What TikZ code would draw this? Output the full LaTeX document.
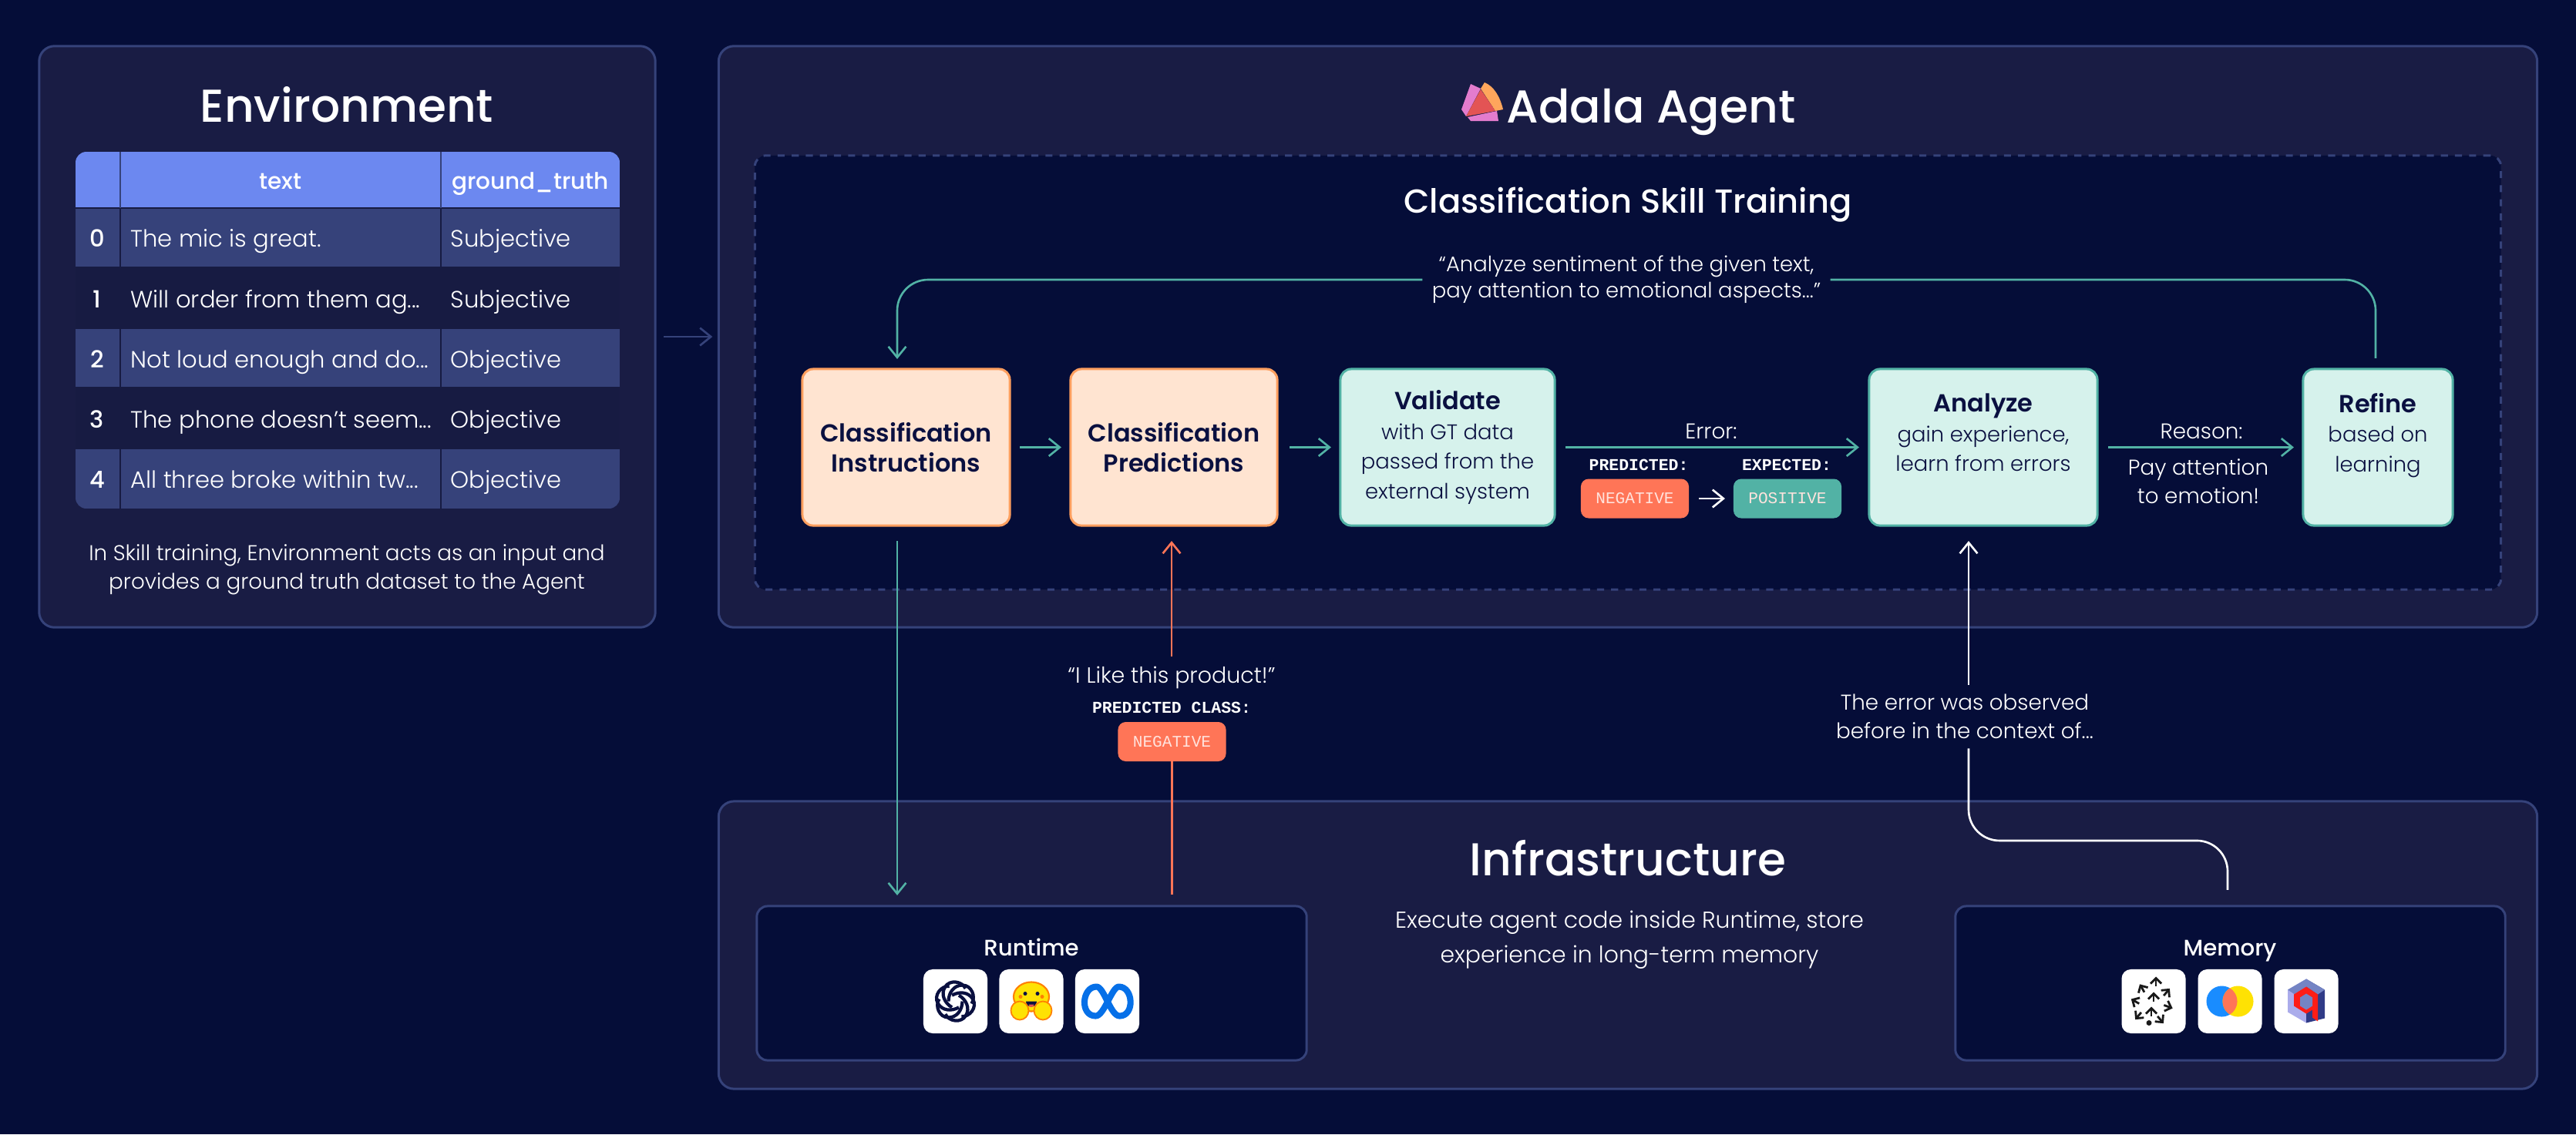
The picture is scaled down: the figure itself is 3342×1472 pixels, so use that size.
\documentclass[tikz,border=0pt]{standalone}
\usepackage{fontspec}
\setmainfont{Poppins}[UprightFont=* Light,BoldFont=* SemiBold]
\newfontfamily\medfont{Poppins}[UprightFont=* Medium]
\setmonofont{Liberation Mono}
\usetikzlibrary{arrows.meta}

\definecolor{pagebg}{HTML}{050D38}
\definecolor{panelbg}{HTML}{191C44}
\definecolor{panelline}{HTML}{35427A}
\definecolor{headblue}{HTML}{6C88F0}
\definecolor{rowlight}{HTML}{36427A}
\definecolor{rowdark}{HTML}{171B42}
\definecolor{peachfill}{HTML}{FFE4D1}
\definecolor{peachline}{HTML}{FF9F5F}
\definecolor{mintfill}{HTML}{D6F2EC}
\definecolor{mintline}{HTML}{52B2A5}
\definecolor{coral}{HTML}{FF7557}
\definecolor{inktext}{HTML}{0A1040}
\definecolor{logopink}{HTML}{E37CCD}
\definecolor{logored}{HTML}{E35454}
\definecolor{logoorange}{HTML}{FFA65C}
\definecolor{metablue}{HTML}{0670E8}

\newcommand{\boxhead}{\bfseries\fontsize{9.1}{11}\selectfont}

\tikzset{
	panel/.style={draw=panelline,fill=panelbg,line width=.85pt,rounded corners=.2cm,inner sep=0pt,outer sep=0pt},
	inpanel/.style={draw=panelline,fill=pagebg,line width=.85pt,rounded corners=.14cm,inner sep=0pt,outer sep=0pt},
	bigtitle/.style={text=white,font=\medfont\fontsize{17}{20}\selectfont},
	subtitle/.style={text=white,font=\medfont\fontsize{12.3}{16}\selectfont},
	bodytext/.style={text=white,align=center,font=\fontsize{7.9}{10.6}\selectfont},
	headcell/.style={text=white,text height=7pt,text depth=2pt,inner sep=0pt,font=\medfont\fontsize{8.4}{10}\selectfont},
	rowcell/.style={text=white,text height=7pt,text depth=2pt,inner sep=0pt,font=\fontsize{8.7}{10}\selectfont},
	flowbox/.style={rounded corners=.14cm,line width=.85pt,inner sep=0pt,outer sep=0pt,text=inktext,align=center,
		minimum height=2.03cm,font=\fontsize{7.8}{11}\selectfont},
	peachbox/.style={flowbox,draw=peachline,fill=peachfill,font=\boxhead},
	mintbox/.style={flowbox,draw=mintline,fill=mintfill,execute at begin node=\rule{0pt}{8.6pt}},
	tag/.style={rounded corners=.1cm,minimum width=1.4cm,minimum height=.51cm,inner sep=0pt,outer sep=0pt,
		text=white!80!coral,font=\fontsize{6}{7}\selectfont\ttfamily},
	monolabel/.style={text=white,inner sep=0pt,font=\fontsize{6.1}{7}\selectfont\ttfamily\bfseries},
	iconcard/.style={fill=white,rounded corners=.12cm,minimum width=.83cm,minimum height=.83cm,inner sep=0pt},
	flow/.style={-{Straight Barb[length=4pt,width=6.5pt]},line width=.75pt},
}

\begin{document}
\begin{tikzpicture}[x=.01cm,y=-.01cm]
	\fill[pagebg] (0,0) rectangle (3342,1472);
	\useasboundingbox (0,0) rectangle (3342,1472);

	% panels
	\node[panel,minimum width=7.99cm,minimum height=7.54cm] (env) at (450.5,437) {};
	\node[panel,minimum width=23.58cm,minimum height=7.54cm] (agent) at (2112,437) {};
	\node[panel,minimum width=23.58cm,minimum height=3.73cm] (infra) at (2112,1226.5) {};
	\node[inpanel,dash pattern=on 2.6pt off 2.6pt,minimum width=22.64cm,minimum height=5.63cm] (skill) at (2112,483.5) {};
	\node[inpanel,minimum width=7.13cm,minimum height=2cm] (runtime) at (1338.5,1276) {};
	\node[inpanel,minimum width=7.13cm,minimum height=2cm] (memory) at (2893.5,1276) {};

	\node[bigtitle] (envtitle) at (450,136) {Environment};
	\node[bigtitle] (agenttitle) at (2142,146) {Adala Agent};
	\node[subtitle] (skilltitle) at (2112,266) {Classification Skill Training};
	\node[bigtitle] (infratitle) at (2112,1114) {Infrastructure};
	\node[bodytext,font=\fontsize{8.5}{12.7}\selectfont] (infranote) at (2114,1220) {Execute agent code inside Runtime, store\\experience in long-term memory};
	\node[bodytext] (envnote) at (450,739) {In Skill training, Environment acts as an input and\\provides a ground truth dataset to the Agent};

	% logo
	\fill[logopink] (1908,109) -- (1921,115) -- (1902,151) -- (1896,142) -- cycle;
	\fill[logoorange] (1926,107) .. controls (1938,112) and (1946,125) .. (1950,142) -- (1940,144) -- (1921,115) -- cycle;
	\fill[logored] (1921,116) -- (1940,144) -- (1902,151) -- cycle;
	\fill[logopink] (1904,152) -- (1942,144) -- (1944,157) -- (1908,157) -- cycle;

	% table
	\begin{scope}
		\clip[rounded corners=.14cm] (98,197) rectangle (804,660);
		\fill[headblue] (98,197) rectangle (804,270);
		\foreach \ytop/\ybot/\rowcol in {270/347/rowlight,347/426/rowdark,426/503/rowlight,503/582/rowdark,582/660/rowlight}
			\fill[\rowcol] (98,\ytop) rectangle (804,\ybot);
		\foreach \ybot in {270,347,426,503,582}
			\draw[rowdark,line width=.5pt] (98,\ybot) -- (804,\ybot);
		\draw[rowdark,line width=.5pt] (156,270) -- (156,660);
		\draw[rowdark,line width=.5pt] (572,270) -- (572,660);
		\draw[rowlight,line width=.5pt] (156,197) -- (156,270);
		\draw[rowlight,line width=.5pt] (572,197) -- (572,270);
	\end{scope}
	\node[headcell] (headtext) at (364,237) {text};
	\node[headcell] (headtruth) at (688,237) {ground\_truth};
	\foreach \idx/\txt/\truth/\ypos in {0/{The mic is great.}/Subjective/312,1/{Will order from them ag...}/Subjective/391,
		2/{Not loud enough and do...}/Objective/469,3/{The phone doesn\char39 t seem...}/Objective/547,4/{All three broke within tw...}/Objective/625}{
		\node[rowcell,font=\medfont\fontsize{8.7}{10}\selectfont] (idx\idx) at (126,\ypos) {\idx};
		\node[rowcell,anchor=west] (txt\idx) at (169,\ypos) {\txt};
		\node[rowcell,anchor=west] (truth\idx) at (584,\ypos) {\truth};
	}

	% training loop
	\node[peachbox,minimum width=2.69cm] (instr) at (1175.5,580.5) {Classification\\Instructions};
	\node[peachbox,minimum width=2.68cm] (pred) at (1523,580.5) {Classification\\Predictions};
	\node[mintbox,minimum width=2.78cm] (validate) at (1878,580.5) {{\boxhead Validate}\\with GT data\\passed from the\\external system};
	\node[mintbox,minimum width=2.96cm] (analyze) at (2573,580.5) {{\boxhead Analyze}\\gain experience,\\learn from errors\\~};
	\node[mintbox,minimum width=1.94cm] (refine) at (3085,580.5) {{\boxhead Refine}\\based on\\learning\\~};

	\node[bodytext,font=\fontsize{7.8}{9.6}\selectfont] (feedback) at (2110,363) {“Analyze sentiment of the given text,\\pay attention to emotional aspects...”};
	\node[bodytext,inner sep=0pt] (errorlabel) at (2220,560) {Error:};
	\node[bodytext,inner sep=0pt] (reasonlabel) at (2856,560) {Reason:};
	\node[bodytext,inner sep=0pt] (reasonnote) at (2852,625) {Pay attention\\to emotion!};
	\node[monolabel] (predictedlabel) at (2126,603) {PREDICTED:};
	\node[monolabel] (expectedlabel) at (2318,603) {EXPECTED:};
	\node[tag,fill=coral] (wrongtag) at (2121,647) {NEGATIVE};
	\node[tag,fill=mintline] (righttag) at (2319,647) {POSITIVE};

	\draw[flow,mintline,shorten <=.13cm,shorten >=.12cm] (instr.east) -- (pred.west);
	\draw[flow,mintline,shorten <=.16cm,shorten >=.12cm] (pred.east) -- (validate.west);
	\draw[flow,mintline,shorten <=.14cm,shorten >=.13cm] (validate.east) -- (analyze.west);
	\draw[flow,mintline,shorten <=.14cm,shorten >=.12cm] (analyze.east) -- (refine.west);
	\draw[flow,white,shorten <=.13cm,shorten >=.11cm] (wrongtag) -- (righttag);
	\draw[mintline,line width=.75pt,rounded corners=.4cm] ([xshift=-.03cm,yshift=.14cm]refine.north) |- (feedback.east);
	\draw[flow,mintline,rounded corners=.4cm,shorten >=.13cm] (feedback.west) -| ([xshift=-.115cm]instr.north);

	% runtime and memory
	\node[headcell,font=\medfont\fontsize{8.3}{10}\selectfont] (runtimetitle) at (1338,1232) {Runtime};
	\node[headcell,font=\medfont\fontsize{8.3}{10}\selectfont] (memorytitle) at (2893,1232) {Memory};
	\node[bodytext,font=\fontsize{8.1}{10}\selectfont] (inputnote) at (1520,879) {“I Like this product!”};
	\node[monolabel] (classlabel) at (1520,918) {PREDICTED CLASS:};
	\node[tag,fill=coral] (classtag) at (1520.5,962.5) {NEGATIVE};
	\node[bodytext] (errornote) at (2549,930) {The error was observed\\before in the context of...};

	\draw[flow,mintline,shorten <=.2cm,shorten >=.14cm] ([xshift=-.115cm]instr.south) -- ([xshift=-.115cm]instr.south |- runtime.north);
	\draw[coral,line width=.75pt,shorten >=.15cm] (classtag.south) -- (classtag.south |- runtime.north);
	\draw[flow,coral,shorten >=.2cm] (inputnote.north) -- (inputnote.north |- pred.south);
	\draw[white,line width=.75pt,rounded corners=.4cm,shorten <=.21cm] ([xshift=-.035cm]memory.north) -- ++(0,-85) -| ([xshift=.05cm]errornote.south);
	\draw[flow,white,shorten >=.2cm] ([xshift=.05cm]errornote.north) -- ([xshift=.05cm]errornote.north |- analyze.south);

	% icons of the runtime
	\node[iconcard] (openai) at (1239.5,1299.5) {};
	\node[iconcard] (hugface) at (1338,1299.5) {};
	\node[iconcard] (meta) at (1436.5,1299.5) {};
	\begin{scope}[shift={(openai)}]
		\foreach \ang in {30,90,150,210,270,330}
			\draw[inktext,line width=1.2pt,rotate=\ang] (0,-9) .. controls (11,-9) and (21,-2) .. (21,9) .. controls (21,21) and (6,27) .. (-3,21);
	\end{scope}
	\begin{scope}[shift={(hugface)}]
		\filldraw[fill=yellow!85!orange,draw=orange,line width=.6pt] (0,-6) ellipse (.23cm and .19cm);
		\fill[orange] (-14,-6) circle (.025cm) (14,-6) circle (.025cm);
		\fill[inktext] (-8,-10) circle (.025cm) (8,-10) circle (.025cm);
		\fill[inktext] (-7,0) arc[start angle=180,end angle=360,radius=.07cm] -- cycle;
		\fill[logored] (-3.5,4) arc[start angle=180,end angle=360,radius=.035cm] -- cycle;
		\filldraw[fill=yellow!85!orange,draw=orange,line width=.5pt] (-15,12) ellipse (.115cm and .12cm) (15,12) ellipse (.115cm and .12cm);
	\end{scope}
	\begin{scope}[shift={(meta)}]
		\draw[metablue,line width=2.3pt,line join=round] (-15,19) .. controls (-36,19) and (-33,-19) .. (-14,-19)
			.. controls (-4,-19) and (4,19) .. (16,19) .. controls (36,19) and (34,-19) .. (15,-19)
			.. controls (6,-19) and (-4,19) .. (-15,19) -- cycle;
	\end{scope}

	% icons of the memory
	\node[iconcard] (weaviate) at (2794,1299.5) {};
	\node[iconcard] (chroma) at (2893,1299.5) {};
	\node[iconcard] (qdrant) at (2992,1299.5) {};
	\begin{scope}[shift={(weaviate)}]
		\foreach \px/\py/\ang in {3/-26/90,-15/-17/120,17/-12/50,0/-6/90,-24/0/150,19/7/-20,-3/13/90,-20/19/230,9/24/-50}
			\draw[-{Straight Barb[length=2pt,width=4pt]},black!90,line width=.8pt] (\px,\py) ++(\ang+180:.06cm) -- ++(\ang:.12cm);
		\fill[black!90] (-6,28) circle (.035cm);
	\end{scope}
	\begin{scope}[shift={(chroma)}]
		\fill[blue!50!cyan!90!white] (-10.5,0) circle (.2cm);
		\fill[yellow!85!orange] (10.5,0) circle (.2cm);
		\begin{scope}
			\clip (-10.5,0) circle (.2cm);
			\fill[coral] (10.5,0) circle (.2cm);
		\end{scope}
	\end{scope}
	\begin{scope}[shift={(qdrant)}]
		\fill[blue!25!white!85!panelline] (-24,-15) -- (-24,14) -- (0,28) -- (0,-29) -- cycle;
		\fill[panelline!90!blue] (24,-15) -- (24,22) -- (0,28) -- (0,-29) -- cycle;
		\fill[headblue!50!panelline!80!white] (0,-29) -- (24,-15) -- (15,-9) -- (0,-19) -- (-15,-9) -- (-24,-15) -- cycle;
		\fill[red!75!coral] (-16,-9) -- (0,-19) -- (15,-9) -- (15,26) -- (8,21) -- (8,11) -- (0,16) -- (-16,6) -- cycle;
		\fill[headblue!50!panelline!80!white] (0,-10) -- (8,-5) -- (8,6) -- (0,11) -- (-8,6) -- (-8,-5) -- cycle;
	\end{scope}

	% environment to agent
	\draw[flow,panelline,shorten <=.11cm,shorten >=.08cm] (env.east) -- (agent.west);
\end{tikzpicture}
\end{document}
